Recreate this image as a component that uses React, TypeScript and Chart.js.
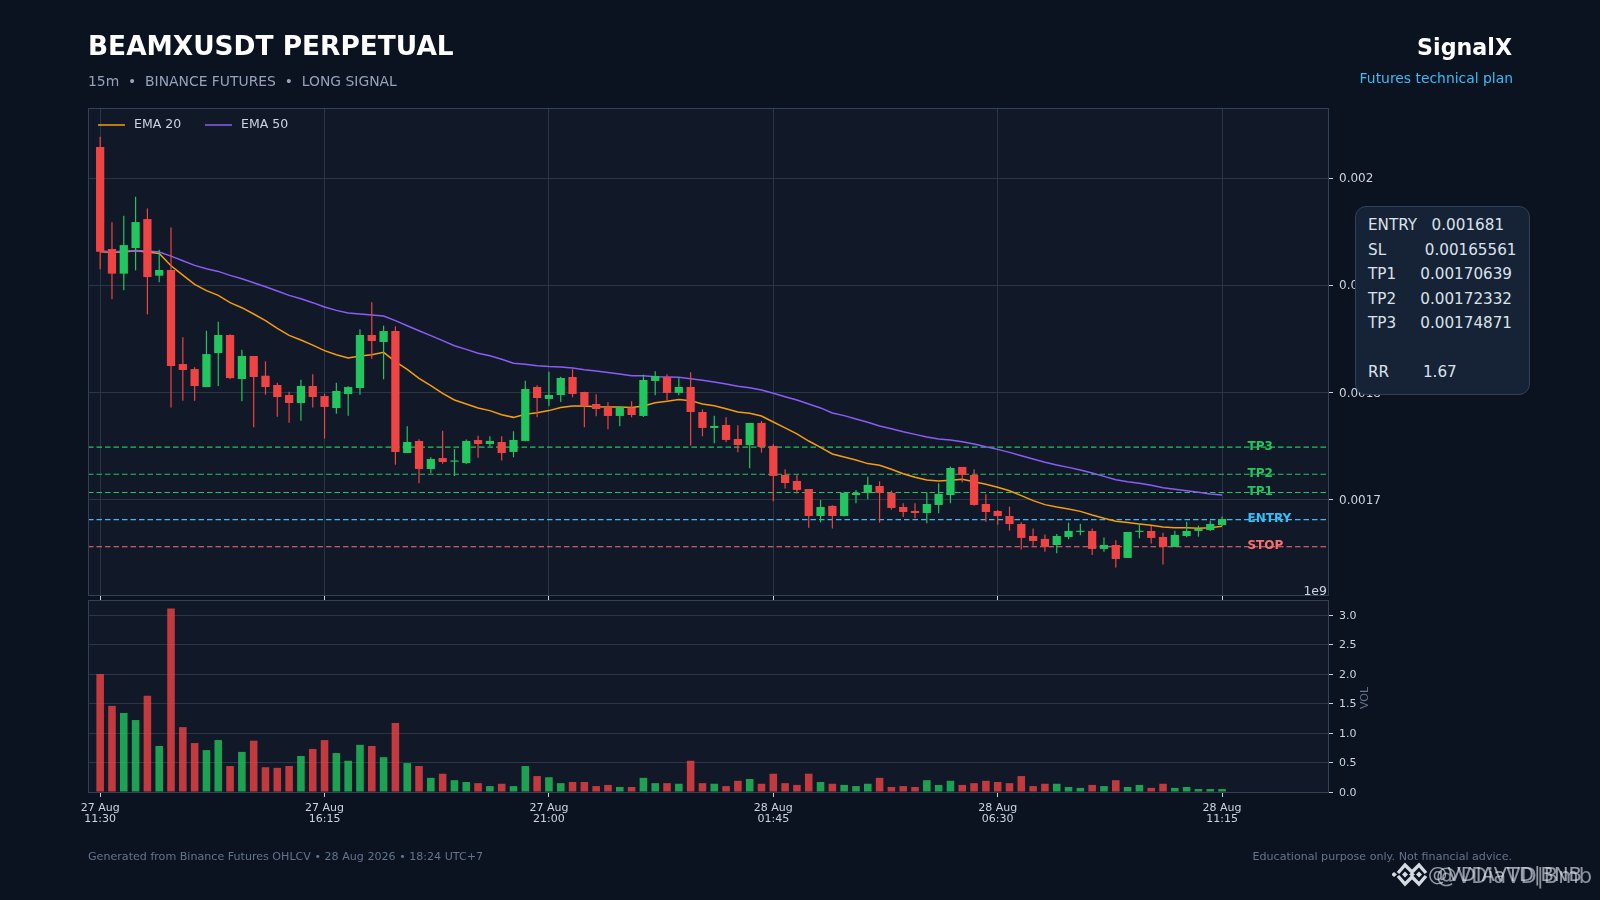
import React, { useEffect, useRef } from "react";
import { Chart, registerables } from "chart.js";

Chart.register(...registerables);

const OPEN = [0.0020289,0.0019337,0.0019107,0.0019346,0.0019617,0.0019088,0.0019141,0.0018263,0.0018216,0.0018048,0.0018366,0.0018534,0.0018123,0.0018338,0.0018154,0.0018067,0.0017974,0.0017899,0.0018058,0.0017964,0.0017852,0.0017983,0.0018039,0.0018534,0.0018469,0.0018571,0.0017432,0.0017544,0.0017283,0.0017385,0.0017351,0.0017339,0.0017553,0.0017516,0.0017535,0.0017442,0.0017545,0.0018049,0.0017937,0.0017974,0.0018142,0.0018002,0.001789,0.0017862,0.0017778,0.0017856,0.0017778,0.0018105,0.0018142,0.0017993,0.0018049,0.0017815,0.0017666,0.0017694,0.0017563,0.0017507,0.0017713,0.0017498,0.0017227,0.0017171,0.0017096,0.0016844,0.0016938,0.0016844,0.001704,0.0017059,0.0017124,0.0017059,0.0016928,0.0016891,0.0016872,0.0016947,0.001704,0.0017302,0.0017227,0.0016956,0.0016891,0.0016844,0.0016769,0.0016657,0.001663,0.0016573,0.0016648,0.0016695,0.0016704,0.0016536,0.0016573,0.0016452,0.0016695,0.0016704,0.0016648,0.0016555,0.0016657,0.0016704,0.0016713,0.001676];
const HIGH = [0.0020386,0.0019586,0.0019648,0.0019825,0.0019716,0.0019331,0.0019539,0.0018512,0.0018232,0.0018574,0.0018658,0.001854,0.0018397,0.0018338,0.0018288,0.0018089,0.0018005,0.0018117,0.0018167,0.0017986,0.0018089,0.0018055,0.0018587,0.0018839,0.0018621,0.0018615,0.0017681,0.001756,0.0017392,0.0017641,0.0017469,0.0017558,0.0017594,0.0017588,0.0017588,0.0017635,0.0018108,0.0018064,0.0018192,0.0018145,0.0018214,0.0018005,0.001798,0.0017905,0.0017865,0.0017915,0.0018164,0.0018195,0.0018167,0.0018136,0.0018186,0.001784,0.0017781,0.0017765,0.0017691,0.0017713,0.0017731,0.0017517,0.001728,0.0017227,0.0017096,0.0016994,0.0016944,0.0017071,0.0017087,0.0017211,0.0017168,0.001708,0.0016962,0.0016962,0.0017065,0.0017149,0.0017305,0.0017302,0.001728,0.0017046,0.00169,0.0016931,0.0016785,0.0016726,0.001667,0.0016676,0.0016782,0.0016772,0.0016726,0.0016642,0.0016617,0.0016695,0.0016772,0.0016751,0.0016688,0.0016707,0.0016791,0.0016754,0.00168,0.0016838];
const LOW = [0.0019147,0.0018867,0.0018951,0.0019138,0.0018727,0.0019026,0.0017858,0.0017921,0.0017921,0.0018048,0.0018058,0.001812,0.0017915,0.0017672,0.0017977,0.001777,0.0017715,0.0017734,0.0017856,0.0017566,0.0017799,0.001778,0.0017977,0.0018313,0.001812,0.0017323,0.0017432,0.001715,0.0017242,0.0017332,0.0017217,0.001733,0.0017388,0.0017495,0.0017361,0.0017392,0.0017541,0.0017765,0.0017871,0.0017909,0.0017952,0.0017672,0.0017775,0.0017654,0.0017681,0.0017765,0.0017769,0.0017971,0.0017921,0.0017971,0.0017501,0.0017588,0.0017523,0.0017532,0.0017439,0.0017289,0.0017436,0.0016981,0.00171,0.0017053,0.0016735,0.0016785,0.0016726,0.0016838,0.0016962,0.0017,0.0016782,0.0016903,0.0016835,0.0016822,0.0016775,0.0016869,0.0016962,0.0017158,0.001694,0.0016791,0.0016763,0.0016707,0.001653,0.0016567,0.0016511,0.0016495,0.0016626,0.0016663,0.001648,0.0016511,0.0016362,0.0016452,0.0016635,0.0016586,0.001639,0.0016555,0.0016645,0.0016651,0.0016704,0.001675];
const CLOSE = [0.0019312,0.0019107,0.0019374,0.0019589,0.0019075,0.0019141,0.0018244,0.0018207,0.0018058,0.0018356,0.0018534,0.0018132,0.0018338,0.0018142,0.0018048,0.0017955,0.0017899,0.0018058,0.0017955,0.0017862,0.0018011,0.0018048,0.0018534,0.0018478,0.0018571,0.0017441,0.0017535,0.0017283,0.0017376,0.0017348,0.0017356,0.0017544,0.0017516,0.0017545,0.0017432,0.0017554,0.001803,0.0017946,0.0017974,0.0018133,0.0017983,0.0017878,0.0017843,0.0017778,0.0017862,0.0017787,0.0018114,0.0018151,0.0017993,0.0018049,0.0017815,0.0017666,0.0017685,0.0017554,0.0017507,0.0017713,0.0017488,0.0017218,0.0017152,0.0017087,0.0016844,0.0016928,0.0016844,0.0017059,0.0017059,0.0017134,0.0017059,0.0016919,0.0016881,0.0016872,0.0016956,0.001705,0.0017292,0.0017227,0.0016947,0.0016881,0.0016844,0.0016769,0.0016639,0.001661,0.0016555,0.0016657,0.0016704,0.0016704,0.0016536,0.0016573,0.0016442,0.0016695,0.0016704,0.0016639,0.0016555,0.0016667,0.0016704,0.0016723,0.0016769,0.0016816];
const EMA_20 = [0.0019312,0.0019306,0.0019309,0.0019321,0.0019309,0.0019296,0.0019181,0.0019094,0.0019007,0.0018948,0.0018904,0.0018836,0.0018789,0.001873,0.0018668,0.0018596,0.0018531,0.0018487,0.001844,0.0018388,0.001835,0.0018319,0.0018338,0.001835,0.0018372,0.0018285,0.0018213,0.0018129,0.0018061,0.0017989,0.0017927,0.001789,0.0017852,0.0017828,0.001779,0.0017765,0.0017793,0.0017809,0.0017828,0.0017856,0.0017871,0.0017871,0.0017865,0.0017862,0.0017862,0.0017856,0.0017871,0.0017902,0.0017915,0.0017931,0.0017921,0.001789,0.0017874,0.0017846,0.0017815,0.0017803,0.0017778,0.0017722,0.0017666,0.001761,0.0017544,0.0017485,0.0017423,0.0017395,0.0017367,0.0017333,0.0017317,0.001728,0.0017239,0.0017205,0.001718,0.0017171,0.0017177,0.0017186,0.0017164,0.001714,0.0017112,0.001708,0.0017034,0.0016987,0.001695,0.0016928,0.001691,0.0016887,0.0016853,0.0016822,0.0016794,0.0016782,0.0016769,0.0016757,0.0016741,0.0016735,0.0016735,0.0016729,0.0016735,0.0016747];
const EMA_50 = [0.0019321,0.0019309,0.0019318,0.0019324,0.0019318,0.0019309,0.0019271,0.0019228,0.0019184,0.0019153,0.0019128,0.0019091,0.001906,0.0019022,0.0018985,0.0018945,0.0018904,0.0018873,0.0018836,0.0018795,0.0018764,0.0018739,0.001873,0.0018721,0.0018711,0.0018668,0.0018621,0.0018574,0.0018528,0.0018481,0.0018434,0.00184,0.0018363,0.0018341,0.0018307,0.001827,0.001826,0.0018248,0.0018239,0.0018235,0.0018226,0.001821,0.0018198,0.0018183,0.001817,0.0018154,0.0018154,0.0018145,0.0018142,0.0018139,0.0018126,0.0018111,0.0018095,0.0018077,0.0018055,0.0018042,0.0018021,0.001799,0.0017958,0.0017927,0.001789,0.0017853,0.0017806,0.0017781,0.001775,0.0017719,0.0017684,0.0017659,0.0017631,0.0017606,0.0017581,0.0017563,0.0017553,0.0017538,0.0017516,0.0017491,0.0017466,0.0017438,0.0017407,0.0017376,0.0017345,0.001732,0.0017298,0.0017273,0.0017245,0.0017214,0.0017183,0.0017164,0.0017149,0.001713,0.0017108,0.0017093,0.001708,0.0017065,0.0017049,0.001704];
const VOLUME = [2.0,1.46,1.34,1.22,1.63,0.78,3.11,1.1,0.83,0.71,0.88,0.44,0.68,0.87,0.42,0.41,0.44,0.61,0.73,0.88,0.66,0.53,0.8,0.78,0.59,1.17,0.49,0.44,0.24,0.31,0.2,0.17,0.15,0.1,0.14,0.1,0.44,0.27,0.25,0.15,0.17,0.17,0.1,0.12,0.085,0.085,0.24,0.15,0.15,0.14,0.53,0.15,0.14,0.1,0.19,0.22,0.14,0.31,0.15,0.12,0.31,0.17,0.14,0.12,0.1,0.14,0.24,0.085,0.1,0.085,0.2,0.12,0.19,0.12,0.15,0.19,0.17,0.15,0.27,0.1,0.14,0.14,0.085,0.07,0.12,0.1,0.2,0.085,0.12,0.07,0.14,0.07,0.085,0.05,0.05,0.05];

const TICK_INDEX = [0, 19, 38, 57, 76, 95];
const TICK_DATES = ["27 Aug", "27 Aug", "27 Aug", "28 Aug", "28 Aug", "28 Aug"];
const TICK_TIMES = ["11:30", "16:15", "21:00", "01:45", "06:30", "11:15"];
const PRICE_TICKS = [0.0017, 0.0018, 0.0019, 0.002];
const VOLUME_TICKS = [0, 0.5, 1, 1.5, 2, 2.5, 3];

const LEVEL_NAMES = ["TP3", "TP2", "TP1", "ENTRY", "STOP"];
const LEVEL_VALUES = [0.00174871, 0.00172332, 0.00170639, 0.001681, 0.00165561];
const LEVEL_COLORS = ["#22c55e", "#22c55e", "#22c55e", "#38bdf8", "#f87171"];

const INFO_LINES = [
  "ENTRY   0.001681",
  "SL        0.00165561",
  "TP1     0.00170639",
  "TP2     0.00172332",
  "TP3     0.00174871",
  " ",
  "RR       1.67",
];

const FONT = '"DejaVu Sans", sans-serif';
const RED = "#ef4444";
const GREEN = "#22c55e";
const PANEL = "#111827";
const SPINE = "#334155";
const GRID = "#2a3646";
const TICK = "#cbd5e1";
const X_MIN = -1.03;
const X_MAX = 103.97;

const panelPlugin = {
  id: "panel",
  beforeDraw(chart: any) {
    const { ctx, chartArea: a } = chart;
    ctx.save();
    ctx.fillStyle = PANEL;
    ctx.fillRect(a.left, a.top, a.right - a.left, a.bottom - a.top);
    ctx.restore();
  },
  afterDraw(chart: any) {
    const { ctx, chartArea: a } = chart;
    ctx.save();
    ctx.strokeStyle = SPINE;
    ctx.lineWidth = 1;
    ctx.strokeRect(a.left + 0.5, a.top + 0.5, a.right - a.left, a.bottom - a.top);
    ctx.restore();
  },
};

const levelLabelPlugin = {
  id: "levelLabels",
  afterDatasetsDraw(chart: any) {
    const { ctx, scales } = chart;
    ctx.save();
    ctx.font = `bold 12px ${FONT}`;
    ctx.textBaseline = "middle";
    ctx.textAlign = "left";
    LEVEL_NAMES.forEach((name, i) => {
      ctx.fillStyle = LEVEL_COLORS[i];
      ctx.fillText(name, scales.x.getPixelForValue(97.15), scales.y.getPixelForValue(LEVEL_VALUES[i]) - 0.5);
    });
    ctx.restore();
  },
};

const emaLegendPlugin = {
  id: "emaLegend",
  afterDatasetsDraw(chart: any) {
    const { ctx, chartArea: a, data } = chart;
    ctx.save();
    ctx.font = `12.5px ${FONT}`;
    ctx.textBaseline = "middle";
    ctx.textAlign = "left";
    let x = a.left + 10;
    const y = a.top + 17;
    data.datasets
      .filter((d: any) => String(d.label).startsWith("EMA"))
      .forEach((d: any) => {
        ctx.strokeStyle = d.borderColor;
        ctx.lineWidth = 1.5;
        ctx.beginPath();
        ctx.moveTo(x, y);
        ctx.lineTo(x + 27, y);
        ctx.stroke();
        ctx.fillStyle = TICK;
        ctx.fillText(d.label, x + 36, y);
        x += 107;
      });
    ctx.restore();
  },
};

const pt = (arr: number[]) => arr.map((y, x) => ({ x, y }));
const candleColor = (i: number) => (CLOSE[i] >= OPEN[i] ? GREEN : RED);
const colors = OPEN.map((_, i) => candleColor(i));
const fixTicks = (values: number[]) => (scale: any) => {
  scale.ticks = values.map((value) => ({ value }));
};
const fitY = (s: any) => {
  s.width = 272;
  s.paddingTop = 0;
  s.paddingBottom = 0;
};
const fitX = (h: number) => (s: any) => {
  s.height = h;
  s.paddingLeft = 0;
  s.paddingRight = 0;
};

export default function App() {
  const mainRef = useRef<HTMLCanvasElement>(null);
  const volRef = useRef<HTMLCanvasElement>(null);

  useEffect(() => {
    Chart.defaults.font.family = FONT;
    const main = new Chart(mainRef.current as HTMLCanvasElement, {
      type: "bar",
      plugins: [panelPlugin, levelLabelPlugin, emaLegendPlugin],
      data: {
        datasets: [
          { type: "line", label: "EMA 20", data: pt(EMA_20), borderColor: "#f59e0b", backgroundColor: "#f59e0b", borderWidth: 1.5, pointRadius: 0, tension: 0, order: 4 },
          { type: "line", label: "EMA 50", data: pt(EMA_50), borderColor: "#8b5cf6", backgroundColor: "#8b5cf6", borderWidth: 1.5, pointRadius: 0, tension: 0, order: 3 },
          ...LEVEL_NAMES.map((name, i) => ({
            type: "line", label: name,
            data: [{ x: X_MIN, y: LEVEL_VALUES[i] }, { x: X_MAX, y: LEVEL_VALUES[i] }],
            borderColor: LEVEL_COLORS[i], borderWidth: 1.1, borderDash: [5.5, 3], pointRadius: 0, order: 5,
          })),
          {
            type: "bar", label: "wick",
            data: LOW.map((l, i) => ({ x: i, y: [l, HIGH[i]] })),
            backgroundColor: colors, grouped: false, maxBarThickness: 1.2,
            barPercentage: 1, categoryPercentage: 1, inflateAmount: 0, order: 2,
          },
          {
            type: "bar", label: "body",
            data: OPEN.map((o, i) => ({ x: i, y: [o, CLOSE[i]] })),
            backgroundColor: colors, grouped: false,
            barPercentage: 1, categoryPercentage: 0.7, inflateAmount: 0, minBarLength: 1.2, order: 1,
          },
        ] as any,
      },
      options: {
        responsive: false,
        animation: false,
        devicePixelRatio: 1,
        events: [],
        layout: { padding: { left: 88, top: 108, right: 0, bottom: 0 } },
        plugins: { tooltip: { enabled: false }, legend: { display: false } },
        scales: {
          x: {
            type: "linear", min: X_MIN, max: X_MAX, offset: false,
            afterBuildTicks: fixTicks(TICK_INDEX),
            afterFit: fitX(5),
            ticks: { display: false, autoSkip: false },
            grid: { color: GRID, offset: false, tickLength: 5, tickColor: TICK, drawTicks: true },
            border: { color: SPINE },
          },
          y: {
            type: "linear", position: "right", min: 0.0016106, max: 0.0020654, beginAtZero: false,
            afterBuildTicks: fixTicks(PRICE_TICKS),
            afterFit: fitY,
            ticks: { color: TICK, padding: 6, labelOffset: 1.2, font: { size: 12, family: FONT }, callback: (v: any) => String(v) },
            grid: { color: GRID, tickLength: 5, tickColor: TICK },
            border: { color: SPINE },
          },
        },
      } as any,
    });

    const vol = new Chart(volRef.current as HTMLCanvasElement, {
      type: "bar",
      plugins: [panelPlugin],
      data: {
        datasets: [
          {
            label: "Volume",
            data: pt(VOLUME),
            backgroundColor: OPEN.map((_, i) => (candleColor(i) === GREEN ? "rgba(34,197,94,0.8)" : "rgba(239,68,68,0.8)")),
            grouped: false, barPercentage: 1, categoryPercentage: 0.64, inflateAmount: 0,
          },
        ] as any,
      },
      options: {
        responsive: false,
        animation: false,
        devicePixelRatio: 1,
        events: [],
        layout: { padding: { left: 88, top: 2, right: 0, bottom: 0 } },
        plugins: { tooltip: { enabled: false }, legend: { display: false } },
        scales: {
          x: {
            type: "linear", min: X_MIN, max: X_MAX, offset: false,
            afterBuildTicks: fixTicks(TICK_INDEX),
            afterFit: fitX(108),
            ticks: {
              color: TICK, padding: 5, autoSkip: false, maxRotation: 0, minRotation: 0,
              font: { size: 11, family: FONT, lineHeight: 1.03 },
              callback: (v: any) => {
                const i = TICK_INDEX.indexOf(v);
                return [TICK_DATES[i], TICK_TIMES[i]];
              },
            },
            grid: { drawOnChartArea: false, offset: false, tickLength: 5, tickColor: TICK },
            border: { color: SPINE },
          },
          y: {
            type: "linear", position: "right", min: 0, max: 3.255,
            afterBuildTicks: fixTicks(VOLUME_TICKS),
            afterFit: fitY,
            ticks: { color: TICK, padding: 6, labelOffset: 1, font: { size: 11, family: FONT }, callback: (v: any) => Number(v).toFixed(1) },
            grid: { color: GRID, tickLength: 5, tickColor: TICK },
            border: { color: SPINE },
          },
        },
      } as any,
    });

    return () => {
      main.destroy();
      vol.destroy();
    };
  }, []);

  const abs = (s: React.CSSProperties): React.CSSProperties => ({ position: "absolute", whiteSpace: "pre", fontFamily: FONT, ...s });

  return (
    <div style={{ position: "absolute", left: 0, top: 0, width: 1600, height: 900, overflow: "hidden", background: "#0b1220" }}>
      <canvas ref={mainRef} width={1600} height={600} style={{ position: "absolute", left: 0, top: 0, width: 1600, height: 600 }} />
      <canvas ref={volRef} width={1600} height={302} style={{ position: "absolute", left: 0, top: 598, width: 1600, height: 302 }} />

      <div style={abs({ left: 88, top: 28, fontSize: 26.4, lineHeight: "36px", fontWeight: 700, color: "#ffffff" })}>BEAMXUSDT PERPETUAL</div>
      <div style={abs({ left: 88, top: 72, fontSize: 13.9, lineHeight: "18px", color: "#94a3b8" })}>15m  •  BINANCE FUTURES  •  LONG SIGNAL</div>
      <div style={abs({ right: 88, top: 33, fontSize: 22.2, lineHeight: "28px", fontWeight: 700, color: "#ffffff" })}>SignalX</div>
      <div style={abs({ right: 87, top: 69, fontSize: 13.9, lineHeight: "18px", color: "#38bdf8" })}>Futures technical plan</div>

      <div style={abs({ left: 1302, top: 583, width: 25, textAlign: "right", fontSize: 12.5, lineHeight: "16px", color: TICK })}>1e9</div>
      <div style={abs({ left: 1345, top: 691, width: 40, textAlign: "center", fontSize: 11, lineHeight: "14px", color: "#64748b", transform: "rotate(-90deg)" })}>VOL</div>

      <div style={{ position: "absolute", left: 1355, top: 205.5, width: 172.5, height: 187, boxSizing: "content-box", background: "#162236", border: "1px solid #334155", borderRadius: 11 }}>
        {INFO_LINES.map((line, i) => (
          <div key={i} style={abs({ left: 12, top: 6.5 + i * 24.55, fontSize: 15.2, lineHeight: "24px", color: "#dbe2ea" })}>{line}</div>
        ))}
      </div>

      <div style={abs({ left: 88, top: 850, fontSize: 11.1, lineHeight: "14px", color: "#64748b" })}>Generated from Binance Futures OHLCV • 28 Aug 2026 • 18:24 UTC+7</div>
      <div style={abs({ right: 88, top: 850, fontSize: 11.1, lineHeight: "14px", color: "#64748b" })}>Educational purpose only. Not financial advice.</div>

      <svg width={40} height={28} viewBox="0 0 40 28" style={{ position: "absolute", left: 1392, top: 861 }}>
        <g fill="none" stroke="#d5dae3" strokeWidth={3.4}>
          <path d="M6 12 L13 4 L20 11 L27 4 L34 12" />
          <path d="M6 15 L13 23 L20 16 L27 23 L34 15" />
        </g>
        <g fill="#d5dae3">
          <path d="M2 11 L5 13.5 L2 16 L-1 13.5 Z" />
          <path d="M13 10.5 L16 13.5 L13 16.5 L10 13.5 Z" />
          <path d="M20 11 L23 13.5 L20 16 L17 13.5 Z" />
          <path d="M27 10.5 L30 13.5 L27 16.5 L24 13.5 Z" />
        </g>
      </svg>
      <div style={abs({ left: 1428, top: 863, fontSize: 19.5, lineHeight: "24px", color: "rgba(226,232,240,0.65)" })}>@VDIAVTD|BNB</div>
      <div style={abs({ left: 1436, top: 864, fontSize: 21, lineHeight: "24px", color: "rgba(226,232,240,0.6)" })}>@VDiaVD|Bmb</div>
    </div>
  );
}
